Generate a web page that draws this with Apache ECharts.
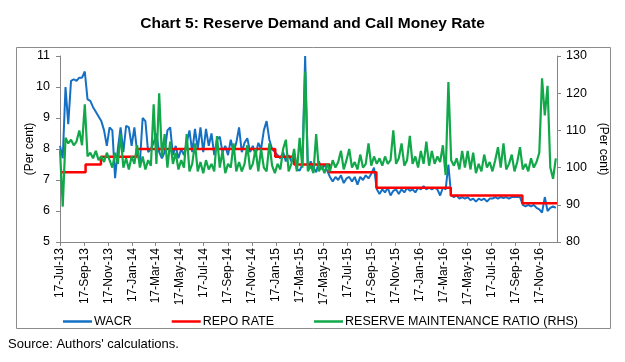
<!DOCTYPE html>
<html>
<head>
<meta charset="utf-8">
<script src="https://cdn.jsdelivr.net/npm/echarts@6/dist/echarts.min.js"></script>
<style>
html,body{margin:0;padding:0;background:#fff;}
#chart{width:625px;height:362px;}
</style>
</head>
<body>
<div id="chart"></div>
<script>
// ---- Data ----
const startDate = '2013-07-17';   // first weekly observation
const endDate = '2016-12-31';     // end of x axis
// weekly WACR (per cent), one value per week from startDate
const wacr = [
8.1,7.7,10.0,8.8,10.2,10.25,10.2,10.3,10.3,10.5,
9.6,9.55,9.35,9.2,9.05,8.9,8.6,8.1,8.7,8.6,
7.06,8.0,8.7,7.9,8.75,8.7,8.1,8.7,7.9,7.55,
9.0,8.9,7.9,8.0,8.2,8.5,7.9,7.7,7.9,8.6,
8.7,7.8,8.1,7.7,8.0,7.8,8.2,8.6,7.9,8.65,
8.0,8.7,7.9,8.65,8.1,8.5,7.8,8.3,8.4,7.9,
8.1,7.8,8.3,7.9,8.2,8.7,7.9,8.2,8.35,7.9,
8.1,7.8,8.2,8.0,8.6,8.9,8.3,8.0,7.9,7.8,
7.7,7.9,7.6,7.8,7.6,7.7,7.35,7.3,7.5,11.0,
7.3,7.6,7.4,7.25,7.6,7.35,7.5,7.3,7.1,6.95,
7.1,7.0,7.15,6.9,7.05,7.1,6.95,7.1,6.85,7.1,
7.0,7.15,7.05,7.2,7.4,6.7,6.55,6.7,6.6,6.75,
6.5,6.65,6.7,6.55,6.7,6.6,6.75,6.65,6.7,6.6,
6.75,6.7,6.8,6.7,6.75,6.7,6.75,6.7,6.5,6.75,
6.7,7.5,6.5,6.45,6.5,6.4,6.45,6.4,6.45,6.35,
6.4,6.3,6.4,6.35,6.4,6.3,6.4,6.4,6.45,6.4,
6.45,6.42,6.45,6.4,6.45,6.45,6.45,6.45,6.2,6.15,
6.2,6.15,6.2,6.1,6.05,5.95,6.45,6.0,6.1,6.15,
6.1
];
// weekly reserve maintenance ratio (per cent, RHS)
const rmr = [
104.7,89.5,108,106.5,107.5,106,107,110,106,117,
103,104,102.5,104.5,102,103,101.5,104,102,100,
104,101,109,100,102.5,99.5,103,101,106,100,
103,99.5,102,100.5,117,101,120,103,109,100,
107,101,104,99.5,102,100,109,99,101,106.5,
99,101.5,98.5,102,99.5,101,99,108.5,100,104.5,
98.5,101,100,106.5,99,101.5,99,101,106,99.5,
101,105,99,105,100,99,106.5,100.5,98.5,101,
99.5,105,107.5,99,101,105,99,108,100,125.8,
99,100.5,98.5,109,99,100.5,98.5,101,99,102,
100,101.5,104.5,99.5,102,105,100,101.5,99.5,103.5,
100,101,106.5,100.5,103,101,102.5,100.5,103,101,
102,110,101,102.5,106.5,100.5,102,108.5,101,103,
100,104.5,101,107,100.5,104.5,101,103,101.5,106,
98,123,102,100.5,102.5,99.5,104.5,100,104.5,99.5,
104,98.5,101,99,103.5,100,101.5,99,102,105.5,
100,106.5,99.5,101,103.5,99,101.5,105.5,99.5,101,
99,102.5,100,101.5,104,124,114,122,100,97,
102.5
];
// policy repo rate: change dates and levels
const repoDates = ['2013-07-17','2013-09-20','2013-10-29','2014-01-28','2015-01-15','2015-03-04','2015-06-02','2015-09-29','2016-04-05','2016-10-04','2016-12-31'];
const repoRates = [7.25,7.5,7.75,8.0,7.75,7.5,7.25,6.75,6.5,6.25,6.25];
// x-axis tick dates
const tickDates = ['2013-07-17','2013-09-17','2013-11-17','2014-01-17','2014-03-17','2014-05-17','2014-07-17','2014-09-17','2014-11-17','2015-01-17','2015-03-17','2015-05-17','2015-07-17','2015-09-17','2015-11-17','2016-01-17','2016-03-17','2016-05-17','2016-07-17','2016-09-17','2016-11-17'];
const monthNames = ['Jan','Feb','Mar','Apr','May','Jun','Jul','Aug','Sep','Oct','Nov','Dec'];

const DAY = 86400000;
function utc(s){ const p = s.split('-').map(Number); return Date.UTC(p[0], p[1]-1, p[2]); }
const T0 = utc(startDate);
function dayIdx(s){ return Math.round((utc(s) - T0) / DAY); }
function fmtDay(v){ const d = new Date(T0 + Math.round(v)*DAY); return d.getUTCDate()+'-'+monthNames[d.getUTCMonth()]+'-'+String(d.getUTCFullYear()).slice(2); }

const FONT = 'Liberation Sans, Arial, sans-serif';
const chart = echarts.init(document.getElementById('chart'), null, {renderer:'canvas'});
const axisGray = '#868686';
const tickPos = tickDates.map(dayIdx);
const C_BLUE = '#1570c4', C_RED = '#ff0000', C_GREEN = '#12a84a';

chart.setOption({
  backgroundColor:'#fff',
  animation:false,
  textStyle:{fontFamily:FONT},
  title:{
    text:'Chart 5: Reserve Demand and Call Money Rate',
    left:'center', top:11,
    textStyle:{fontFamily:FONT, fontSize:15.5, fontWeight:'bold', color:'#000'}
  },
  graphic:[
    {type:'rect', left:14, top:45, shape:{width:594, height:281}, style:{fill:'none', stroke:'#8c8c8c', lineWidth:1}, silent:true, z:-10},
    {type:'text', left:8, top:338, style:{text:"Source: Authors' calculations.", font:'13px '+FONT, fill:'#000'}}
  ],
  legend:{
    left:58, top:310, itemWidth:29, itemHeight:14, itemGap:40,
    icon:'path://M0,6 L29,6 L29,8.5 L0,8.5 Z',
    textStyle:{fontFamily:FONT, fontSize:12.5, color:'#000', padding:[0,0,0,-3]},
    data:['WACR','REPO RATE','RESERVE MAINTENANCE RATIO (RHS)']
  },
  grid:{left:60, right:68, top:56, bottom:120, containLabel:false},
  xAxis:{
    type:'value',
    min:0, max:dayIdx(endDate),
    splitLine:{show:false},
    axisLine:{lineStyle:{color:axisGray}},
    axisTick:{show:true, length:4, lineStyle:{color:axisGray}, customValues:tickPos},
    axisLabel:{
      rotate:90, fontSize:12, color:'#000', margin:6, fontFamily:FONT,
      customValues:tickPos,
      formatter:fmtDay
    }
  },
  yAxis:[
    {type:'value', position:'left', min:5, max:11, interval:1,
     name:'(Per cent)', nameLocation:'middle', nameRotate:90, nameGap:24, nameMoveOverlap:false,
     nameTextStyle:{fontSize:12, color:'#000', fontFamily:FONT},
     splitLine:{show:false},
     axisLine:{show:true, lineStyle:{color:axisGray}},
     axisTick:{show:true, length:4, lineStyle:{color:axisGray}},
     axisLabel:{fontSize:12.5, color:'#000', margin:10, fontFamily:FONT}},
    {type:'value', position:'right', min:80, max:130, interval:10,
     name:'(Per cent)', nameLocation:'middle', nameRotate:-90, nameGap:40, nameMoveOverlap:false,
     nameTextStyle:{fontSize:12, color:'#000', fontFamily:FONT},
     splitLine:{show:false},
     axisLine:{show:true, lineStyle:{color:axisGray}},
     axisTick:{show:true, length:4, lineStyle:{color:axisGray}},
     axisLabel:{fontSize:12.5, color:'#000', margin:9, fontFamily:FONT}}
  ],
  series:[
    {name:'WACR', type:'line', yAxisIndex:0, symbol:'none', color:C_BLUE,
     lineStyle:{width:2, color:C_BLUE},
     data:wacr.map((v,i)=>[7*i, v])},
    {name:'REPO RATE', type:'line', yAxisIndex:0, symbol:'none', step:'end', color:C_RED,
     lineStyle:{width:2.5, color:C_RED},
     data:repoDates.map((d,i)=>[dayIdx(d), repoRates[i]])},
    {name:'RESERVE MAINTENANCE RATIO (RHS)', type:'line', yAxisIndex:1, symbol:'none', color:C_GREEN,
     lineStyle:{width:2.2, color:C_GREEN},
     data:rmr.map((v,i)=>[7*i, v])}
  ]
});
</script>
</body>
</html>
